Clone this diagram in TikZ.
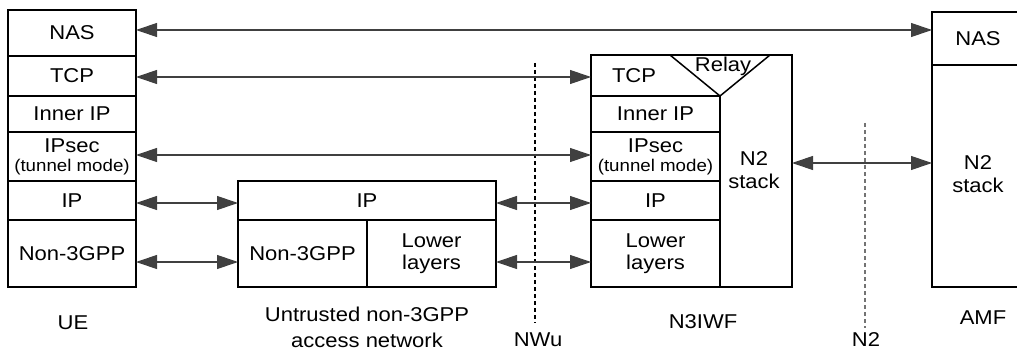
\documentclass[tikz,border=0pt]{standalone}
\usepackage{fontspec}
\setmainfont{Liberation Sans}[FakeStretch=1.1]
\usetikzlibrary{arrows.meta}
\newcommand\bigf{\fontsize{20}{23}\selectfont}
\newcommand\smallf{\fontsize{17}{19}\selectfont}
\tikzset{
  cell/.style={draw, line width=1.5pt, inner sep=0pt, outer sep=0pt, align=center, font=\bigf},
  txt/.style={inner sep=0pt, align=center, font=\bigf},
  arr/.style={line width=1.1pt, draw=black!75, {Triangle[length=21pt,width=14pt]}-{Triangle[length=21pt,width=14pt]}},
  ifline/.style={line width=1.1pt, dash pattern=on 4pt off 3pt},
}
\begin{document}
\begin{tikzpicture}[x=1pt,y=-1pt]
\path[use as bounding box] (0,0) rectangle (1017,350);
\clip (0,0) rectangle (1017,350);
% UE stack
\node[cell, minimum width=128, minimum height=46] (uenas) at (72,33) {NAS};
\node[cell, minimum width=128, minimum height=40] (uetcp) at (72,76) {TCP};
\node[cell, minimum width=128, minimum height=36] (ueinner) at (72,114) {Inner IP};
\node[cell, minimum width=128, minimum height=49] (ueipsec) at (72,156.5) {IPsec\\[-4pt]{\smallf (tunnel mode)}};
\node[cell, minimum width=128, minimum height=39] (ueip) at (72,200.5) {IP};
\node[cell, minimum width=128, minimum height=67] (uenon) at (72,253.5) {Non-3GPP};
\node[txt] (uelbl) at (73,323) {UE};
% Access network
\node[cell, minimum width=258, minimum height=39] (anip) at (367,200.5) {IP};
\node[cell, minimum width=129, minimum height=67] (annon) at (302.5,253.5) {Non-3GPP};
\node[cell, minimum width=129, minimum height=67] (anlow) at (431.5,253.5) {Lower\\[-1pt]layers};
\node[txt] (anlbl) at (367,327) {Untrusted non-3GPP\\[3pt]access network};
% N3IWF
\node[cell, minimum width=201, minimum height=232] (n3) at (691.5,171) {};
\node[txt] (n3tcp) at (634,76) {TCP};
\node[cell, minimum width=129, minimum height=36] (n3inner) at (655.5,114) {Inner IP};
\node[cell, minimum width=129, minimum height=49] (n3ipsec) at (655.5,156.5) {IPsec\\[-4pt]{\smallf (tunnel mode)}};
\node[cell, minimum width=129, minimum height=39] (n3ip) at (655.5,200.5) {IP};
\node[cell, minimum width=129, minimum height=67] (n3low) at (655.5,253.5) {Lower\\[-1pt]layers};
\coordinate (rl) at (670,55);
\coordinate (rv) at (720,96);
\coordinate (rr) at (770,55);
\draw[line width=1.5pt] (rl) -- (rv) -- (rr);
\node[txt] (relay) at (723,66) {Relay};
\node[txt] (n3n2) at (754,170) {N2\\[0pt]stack};
\node[txt] (n3lbl) at (703,322) {N3IWF};
% AMF
\node[cell, minimum width=92, minimum height=53] (amfnas) at (978,38.5) {NAS};
\node[cell, minimum width=92, minimum height=222] (amfn2) at (978,176) {};
\node[txt] (amfn2t) at (978,174) {N2\\[0pt]stack};
\node[txt] (amflbl) at (983,318) {AMF};
% reference points
\coordinate (nwutop) at (535,63);
\coordinate (nwubot) at (535,323);
\node[txt] (nwulbl) at (538,340) {NWu};
\coordinate (n2top) at (865,123);
\coordinate (n2bot) at (865,328);
\node[txt] (n2lbl) at (866,340) {N2};
\draw[ifline, black] (nwutop) -- (nwubot);
\draw[ifline, black!55] (n2top) -- (n2bot);
% connectors
\draw[arr] (uenas.east |- 0,30) -- (amfnas.west |- 0,30);
\draw[arr] (uetcp.east |- 0,77) -- (n3.west |- 0,77);
\draw[arr] (ueipsec.east |- 0,155) -- (n3ipsec.west |- 0,155);
\draw[arr] (ueip.east |- 0,203) -- (anip.west |- 0,203);
\draw[arr] (uenon.east |- 0,262) -- (annon.west |- 0,262);
\draw[arr] (anip.east |- 0,203) -- (n3ip.west |- 0,203);
\draw[arr] (anlow.east |- 0,262) -- (n3low.west |- 0,262);
\draw[arr] (n3.east |- 0,163) -- (amfn2.west |- 0,163);
\end{tikzpicture}
\end{document}
